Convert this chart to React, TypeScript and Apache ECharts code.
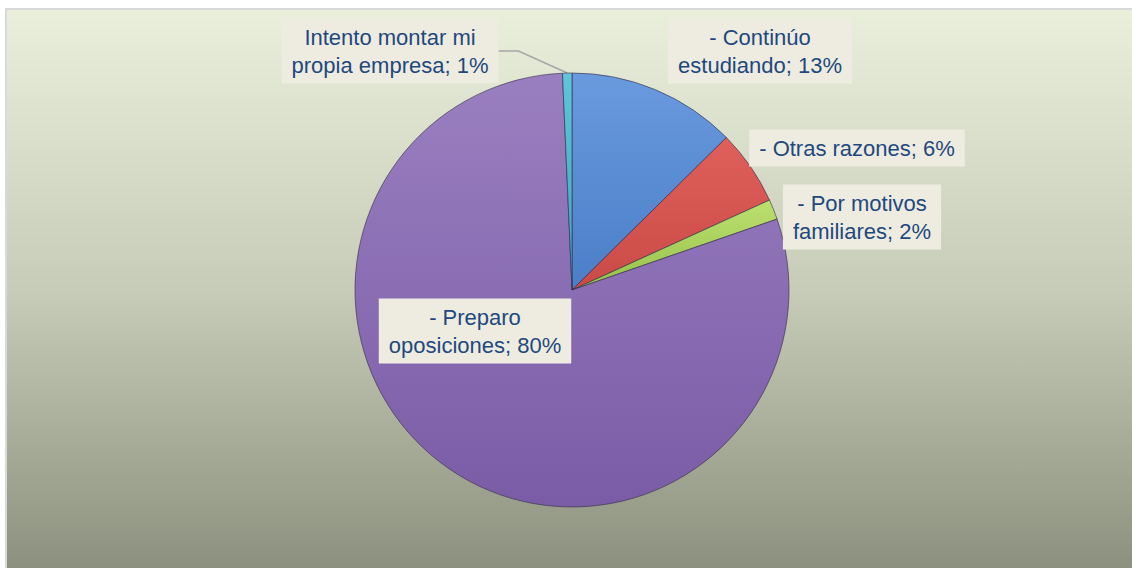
import React, { useEffect, useRef } from "react";
import * as echarts from "echarts";

const categories = [
  "- Continúo\nestudiando",
  "- Otras razones",
  "- Por motivos\nfamiliares",
  "- Preparo\noposiciones",
  "Intento montar mi\npropia empresa",
];
const values = [12.6, 5.6, 1.5, 79.6, 0.7];
const colorsTop = ["#6a9ade", "#df605b", "#bde070", "#9a7fc0", "#5fc6d8"];
const colorsBottom = ["#4a7ec8", "#c94a46", "#95c04a", "#7a5ca6", "#3ca5ba"];

// label anchor positions (chart pixel coords)
const labelPos: [number, number][] = [
  [753, 41],
  [850, 138],
  [855, 207],
  [468, 321],
  [383, 41],
];

export default function App() {
  const ref = useRef<HTMLDivElement>(null);
  useEffect(() => {
    if (!ref.current) return;
    const chart = echarts.init(ref.current, undefined, { renderer: "svg" });
    const total = values.reduce((a, b) => a + b, 0);
    const data = values.map((v, i) => ({
      name: categories[i],
      value: v,
      itemStyle: {
        color: new echarts.graphic.LinearGradient(0, 0, 0, 1, [
          { offset: 0, color: colorsTop[i] },
          { offset: 1, color: colorsBottom[i] },
        ]),
      },
      labelLine: { show: i === 4 },
    }));
    chart.setOption({
      animation: false,
      series: [
        {
          type: "pie",
          center: [565, 280],
          radius: 217,
          startAngle: 90,
          clockwise: true,
          data,
          itemStyle: {
            borderColor: "rgba(50,40,70,0.6)",
            borderWidth: 1,
          },
          label: {
            show: true,
            position: "outside",
            formatter: (p: any) =>
              `${p.name}; ${Math.round((p.value / total) * 100)}%`,
            color: "#1f497d",
            fontFamily: "Liberation Sans",
            fontSize: 22,
            lineHeight: 28,
            backgroundColor: "#eeece1",
            padding: [5, 10, 4, 10],
            align: "center",
          },
          labelLine: {
            show: false,
            length: 20,
            length2: 20,
            lineStyle: { color: "#a6a6a6", width: 1.5 },
          },
          labelLayout: (params: any) => {
            const p = labelPos[params.dataIndex];
            return { x: p[0], y: p[1], align: "center", verticalAlign: "middle" };
          },
        },
      ],
    });
    return () => chart.dispose();
  }, []);
  return (
    <div
      style={{
        position: "absolute",
        left: 5,
        top: 8,
        width: 1127,
        height: 560,
        borderLeft: "2px solid #d9d9d9",
        borderTop: "2px solid #d9d9d9",
        background: "linear-gradient(to bottom, #e9efda 0%, #c6ccb7 50%, #8c917f 100%)",
        overflow: "hidden",
      }}
    >
      <div ref={ref} style={{ width: 1125, height: 558 }} />
    </div>
  );
}
